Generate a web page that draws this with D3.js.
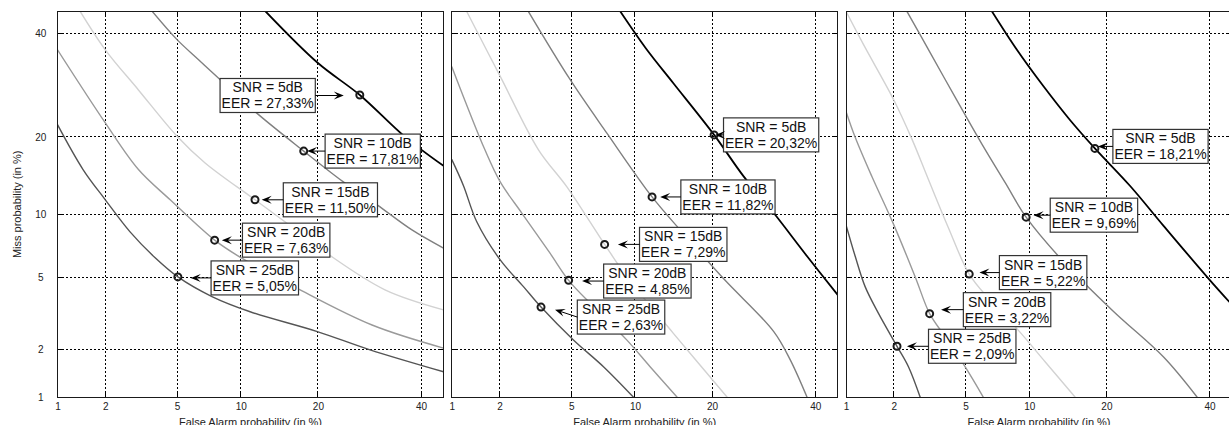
<!DOCTYPE html>
<html>
<head>
<meta charset="utf-8">
<script src="https://cdn.jsdelivr.net/npm/d3@7"></script>
<style>
body { margin: 0; background: #fff; }
svg { display: block; font-family: Arial, "Liberation Sans", sans-serif; }
</style>
</head>
<body>
<div id="chart"></div>
<script>
// ticks on both axes (in %)
var tickValues = [1, 2, 5, 10, 20, 40];
var snrLevels = [5, 10, 15, 20, 25];

// EER values printed in the text boxes
var eerPanel1 = [27.33, 17.81, 11.50, 7.63, 5.05];
var eerPanel2 = [20.32, 11.82, 7.29, 4.85, 2.63];
var eerPanel3 = [18.21, 9.69, 5.22, 3.22, 2.09];

// where the circles are drawn [false alarm %, miss %]
var markPanel1 = [[27.33, 27.33], [17.81, 17.81], [11.50, 11.50], [7.63, 7.63], [5.05, 5.05]];
var markPanel2 = [[20.32, 20.32], [11.82, 11.82], [7.29, 7.29], [4.85, 4.85], [3.46, 3.50]];
var markPanel3 = [[18.21, 18.21], [9.69, 9.69], [5.22, 5.22], [3.22, 3.22], [2.09, 2.09]];

// DET curves, one list of [false alarm %, miss %] per SNR (5, 10, 15, 20, 25 dB)
var curvesPanel1 = [
    [[12.7, 45], [20, 33.7], [27.33, 27.33], [36.5, 20], [45, 15.7]],
    [[3.7, 45], [5, 38.7], [6.4, 34.4], [8.1, 30.3], [11.7, 24], [17.81, 17.81], [24.3, 13.6], [30.7, 10.95], [38, 8.5], [45, 7.0]],
    [[1.4, 45], [2.0, 36.5], [3.11, 28.3], [5, 20.1], [6.88, 16.1], [11.5, 11.5], [15.9, 8.87], [21.5, 6.6], [32.3, 4.33], [45, 3.38]],
    [[1, 36.5], [2, 22.3], [3.11, 15.2], [4.61, 11.5], [7.63, 7.63], [10.1, 6.26], [16.8, 4.42], [29.7, 2.78], [45, 2.04]],
    [[1, 22], [1.46, 15.2], [2, 11.5], [2.79, 8.33], [3.84, 6.29], [5.05, 5.05], [7.41, 3.99], [10.97, 3.3], [19.9, 2.55], [29.3, 1.99], [45, 1.46]]
];
var curvesPanel2 = [
    [[8.6, 45], [11.25, 36.5], [14.4, 29.6], [20.32, 20.32], [25.4, 14.3], [31.2, 10.1], [38.2, 6.4], [45, 4.07]],
    [[2.94, 45], [4.94, 30.3], [7.47, 20.6], [11.82, 11.82], [15.3, 8.5], [21.9, 4.94], [31.2, 2.55], [34.6, 1.73], [38.2, 1]],
    [[1.25, 45], [2.02, 30.96], [3.35, 18.0], [4.75, 13.0], [7.29, 7.29], [9.2, 5.07], [14.4, 2.49], [22.5, 1]],
    [[1, 33], [1.63, 18], [2.02, 13.6], [2.7, 10.1], [3.88, 6.6], [4.85, 4.85], [6.45, 3.52], [9.2, 2.28], [11.6, 1.57], [14.9, 1]],
    [[1, 16.6], [1.19, 13.2], [1.45, 9.25], [2.02, 6.14], [2.76, 4.5], [3.46, 3.5], [5.13, 2.28], [7.2, 1.57], [9.86, 1]]
];
var curvesPanel3 = [
    [[6.75, 45], [8.82, 36.5], [11.5, 29], [14.7, 22.8], [18.21, 18.21], [24, 13.1], [30.3, 8.87], [40, 4.88], [45, 3.6]],
    [[2.39, 45], [3.24, 35.9], [4.5, 26.4], [6.03, 18.9], [7.8, 13.5], [9.69, 9.69], [13.9, 6.0], [21.2, 3.3], [30.3, 1.8], [37.3, 1]],
    [[1.0, 45], [1.3, 37.6], [2.0, 26.4], [2.56, 19.6], [3.17, 13.9], [4.07, 8.7], [5.22, 5.22], [6.6, 3.83], [8.82, 2.65], [11.7, 1.68], [15.4, 1]],
    [[1, 24.3], [1.15, 19.9], [1.47, 14.25], [2, 8.96], [2.67, 5.05], [3.22, 3.22], [3.91, 2.38], [4.99, 1.56], [6.14, 1]],
    [[1, 8.96], [1.15, 6.38], [1.33, 4.5], [1.61, 3.24], [2.09, 2.09], [2.44, 1.57], [2.85, 1]]
];

// text box placement relative to the circle, in px: [box edge dx, box dy, arrow tip dx, arrow tip dy]
// negative box dx = box sits left of the circle (dx is then its right edge)
var boxLayout = [
    [[-44.5, 0.5, -16, 0.5], [21.4, 0, 3.4, 0], [28.3, 0, 6.7, 0], [27.8, 0, 7.2, 0], [33.2, 1, 12.9, 1]],
    [[9.4, 0, 1, 0], [28.8, 0, 8.1, 0], [34.9, 0, 13.3, 0], [35, 0.7, 13.4, 0.7], [36.3, 10, 14, 2.6]],
    [[18, -2, 3, -2], [24.1, -2, 7.4, -2], [30.2, -1.5, 10.2, -1.5], [33.7, -4, 11.4, -4], [31.5, 0, 9.9, 0]]
];

var curveColors = ["#000000", "#808080", "#d2d2d2", "#9a9a9a", "#555555"];
var curveWidths = [1.8, 1.4, 1.4, 1.4, 1.4];

var svgWidth = 1229;
var svgHeight = 425;
var plotTop = 11.3;
var plotSize = 386;
var panelLefts = [57.5, 451.7, 846];

// inverse of the normal cdf (Acklam), used for the DET (probit) axes
function probit(p) {
    var a = [-3.969683028665376e+01, 2.209460984245205e+02, -2.759285104469687e+02, 1.383577518672690e+02, -3.066479806614716e+01, 2.506628277459239e+00];
    var b = [-5.447609879822406e+01, 1.615858368580409e+02, -1.556989798598866e+02, 6.680131188771972e+01, -1.328068155288572e+01];
    var c = [-7.784894002430293e-03, -3.223964580411365e-01, -2.400758277161838e+00, -2.549732539343734e+00, 4.374664141464968e+00, 2.938163982698783e+00];
    var d = [7.784695709041462e-03, 3.224671290700398e-01, 2.445134137142996e+00, 3.754408661907416e+00];
    var pl = 0.02425, q, r;
    if (p < pl) {
        q = Math.sqrt(-2 * Math.log(p));
        return (((((c[0]*q+c[1])*q+c[2])*q+c[3])*q+c[4])*q+c[5]) / ((((d[0]*q+d[1])*q+d[2])*q+d[3])*q+1);
    }
    if (p > 1 - pl) {
        q = Math.sqrt(-2 * Math.log(1 - p));
        return -(((((c[0]*q+c[1])*q+c[2])*q+c[3])*q+c[4])*q+c[5]) / ((((d[0]*q+d[1])*q+d[2])*q+d[3])*q+1);
    }
    q = p - 0.5; r = q * q;
    return (((((a[0]*r+a[1])*r+a[2])*r+a[3])*r+a[4])*r+a[5])*q / (((((b[0]*r+b[1])*r+b[2])*r+b[3])*r+b[4])*r+1);
}

function pct(v) { return probit(v / 100); }

var svg = d3.select("#chart")
    .append("svg")
    .attr("width", svgWidth)
    .attr("height", svgHeight);

var x = d3.scaleLinear().domain([pct(1), pct(45)]).range([0, plotSize]);
var y = d3.scaleLinear().domain([pct(1), pct(45)]).range([plotSize, 0]);
var tickPos = tickValues.map(pct);

var line = d3.line()
    .x(d => x(pct(d[0])))
    .y(d => y(pct(d[1])))
    .curve(d3.curveCatmullRom.alpha(0.5));

var panels = [
    {curves: curvesPanel1, eer: eerPanel1, marks: markPanel1},
    {curves: curvesPanel2, eer: eerPanel2, marks: markPanel2},
    {curves: curvesPanel3, eer: eerPanel3, marks: markPanel3}
];

panels.forEach(function(panel, p) {
    var g = svg.append("g")
        .attr("transform", `translate(${panelLefts[p]}, ${plotTop})`);

    g.append("clipPath").attr("id", "clip" + p)
        .append("rect").attr("width", plotSize).attr("height", plotSize);

    // white background
    g.append("rect").attr("width", plotSize).attr("height", plotSize).attr("fill", "#fff");

    // dotted grid
    var grid = g.append("g").attr("stroke", "#000").attr("stroke-width", 1)
        .attr("stroke-dasharray", "2,2").attr("shape-rendering", "crispEdges");
    tickPos.slice(1).forEach(function(t) {
        grid.append("line").attr("x1", x(t)).attr("x2", x(t)).attr("y1", 0).attr("y2", plotSize);
        grid.append("line").attr("y1", y(t)).attr("y2", y(t)).attr("x1", 0).attr("x2", plotSize);
    });

    // inner tick marks on all four sides
    var ticks = g.append("g").attr("stroke", "#000").attr("stroke-width", 1).attr("shape-rendering", "crispEdges");
    tickPos.slice(1).forEach(function(t) {
        ticks.append("line").attr("x1", x(t)).attr("x2", x(t)).attr("y1", plotSize).attr("y2", plotSize - 4);
        ticks.append("line").attr("x1", x(t)).attr("x2", x(t)).attr("y1", 0).attr("y2", 4);
        ticks.append("line").attr("y1", y(t)).attr("y2", y(t)).attr("x1", 0).attr("x2", 4);
        ticks.append("line").attr("y1", y(t)).attr("y2", y(t)).attr("x1", plotSize).attr("x2", plotSize - 4);
    });

    // curves
    g.append("g").attr("clip-path", `url(#clip${p})`)
        .selectAll("path")
        .data(panel.curves)
        .enter()
        .append("path")
        .attr("d", line)
        .attr("fill", "none")
        .attr("stroke", (d, i) => curveColors[i])
        .attr("stroke-width", (d, i) => curveWidths[i]);

    // frame
    g.append("rect").attr("width", plotSize).attr("height", plotSize)
        .attr("fill", "none").attr("stroke", "#1a1a1a").attr("stroke-width", 1)
        .attr("shape-rendering", "crispEdges");

    // x axis labels
    var xAxis = g.append("g")
        .attr("transform", `translate(0, ${plotSize})`)
        .call(d3.axisBottom(x).tickValues(tickPos).tickFormat((d, i) => tickValues[i]).tickSize(0).tickPadding(6));
    xAxis.select(".domain").remove();
    xAxis.selectAll("text").attr("font-size", "10px").attr("fill", "#222").attr("font-family", null);

    // the reference cuts this label at the bottom edge as well
    g.append("text")
        .attr("x", plotSize / 2)
        .attr("y", 425.6 - plotTop)
        .attr("text-anchor", "middle")
        .attr("font-size", "11px")
        .attr("fill", "#222")
        .text("False Alarm probability (in %)");

    if (p === 0) {
        var yAxis = g.append("g")
            .call(d3.axisLeft(y).tickValues(tickPos).tickFormat((d, i) => tickValues[i]).tickSize(0));
        yAxis.select(".domain").remove();
        yAxis.selectAll("text").attr("font-size", "10px").attr("fill", "#222").attr("font-family", null)
            .attr("text-anchor", "middle").attr("x", -16.7);

        g.append("text")
            .attr("transform", `translate(${20.6 - panelLefts[0]}, ${plotSize / 2}) rotate(-90)`)
            .attr("text-anchor", "middle")
            .attr("font-size", "11px")
            .attr("fill", "#222")
            .text("Miss probability (in %)");
    }

    // markers
    g.selectAll("circle")
        .data(panel.marks)
        .enter()
        .append("circle")
        .attr("cx", d => x(pct(d[0])))
        .attr("cy", d => y(pct(d[1])))
        .attr("r", 3.5)
        .attr("fill", "none")
        .attr("stroke", "#1a1a1a")
        .attr("stroke-width", 2);

    // text boxes with arrows
    panel.marks.forEach(function(m, i) {
        var lay = boxLayout[p][i];
        var mx = x(pct(m[0])), my = y(pct(m[1]));
        var cy = my + lay[1];
        var box = g.append("g");
        var t1 = box.append("text").attr("font-size", "14px").attr("text-anchor", "middle")
            .attr("fill", "#111").text("SNR = " + snrLevels[i] + "dB");
        var t2 = box.append("text").attr("font-size", "14px").attr("text-anchor", "middle")
            .attr("fill", "#111").text("EER = " + panel.eer[i].toFixed(2).replace(".", ",") + "%");
        var w = Math.max(t1.node().getComputedTextLength(), t2.node().getComputedTextLength()) + 3;
        var left = lay[0] >= 0 ? mx + lay[0] : mx + lay[0] - w;
        var edge = lay[0] >= 0 ? left : left + w;
        box.insert("rect", "text")
            .attr("x", left).attr("y", cy - 17)
            .attr("width", w).attr("height", 34)
            .attr("fill", "#fff").attr("stroke", "#333").attr("stroke-width", 1.2);
        t1.attr("x", left + w / 2).attr("y", cy - 3);
        t2.attr("x", left + w / 2).attr("y", cy + 13);

        var tx = mx + lay[2], ty = my + lay[3];
        var ang = Math.atan2(ty - cy, tx - edge);
        var L = 10, hw = 4;
        g.append("line")
            .attr("x1", edge).attr("y1", cy)
            .attr("x2", tx - 0.6 * L * Math.cos(ang)).attr("y2", ty - 0.6 * L * Math.sin(ang))
            .attr("stroke", "#000").attr("stroke-width", 1);
        g.append("path")
            .attr("d", `M0,0 L${-L},${-hw} L${-0.6 * L},0 L${-L},${hw} Z`)
            .attr("transform", `translate(${tx}, ${ty}) rotate(${ang * 180 / Math.PI})`)
            .attr("fill", "#000");
    });
});
</script>
</body>
</html>
